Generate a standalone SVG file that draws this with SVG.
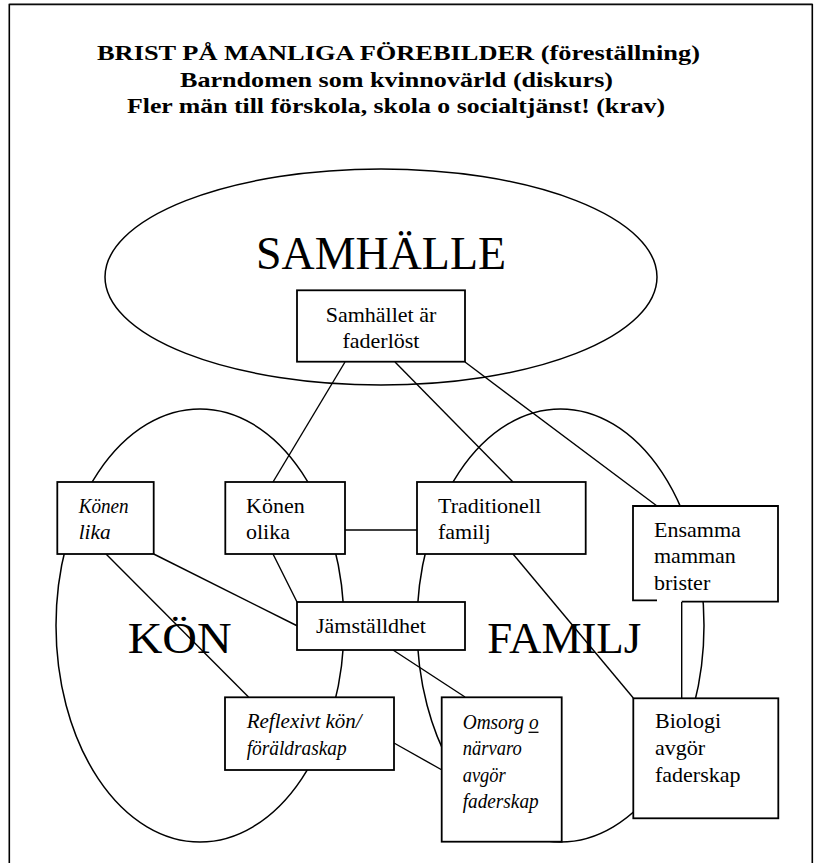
<svg xmlns="http://www.w3.org/2000/svg" width="814" height="863" viewBox="0 0 814 863">
<style>
.frame{fill:none;stroke:#000;stroke-width:1.6}
.ell{fill:none;stroke:#000;stroke-width:1.5}
.box{fill:#fff;stroke:#000;stroke-width:1.8}
.con{stroke:#000;stroke-width:1.4;fill:none}
.t{font-family:"Liberation Serif","Times New Roman",serif;font-size:22px;fill:#000}
.it{font-style:italic}
.title{font-family:"Liberation Serif","Times New Roman",serif;font-size:22px;font-weight:bold;fill:#000}
.big{font-family:"Liberation Serif","Times New Roman",serif;fill:#000}
</style>
<rect x="0" y="0" width="814" height="863" fill="#fff"/>
<g id="frame">
<path class="frame" d="M9.3,863 V4.5 H812.3 V863"/>
<line x1="9.3" y1="3.6" x2="812.3" y2="3.6" stroke="#777" stroke-width="1"/>
</g>
<g id="title">
<text class="title" x="97" y="60" textLength="603" lengthAdjust="spacingAndGlyphs">BRIST PÅ MANLIGA FÖREBILDER (föreställning)</text>
<text class="title" x="180" y="86.7" textLength="433" lengthAdjust="spacingAndGlyphs">Barndomen som kvinnovärld (diskurs)</text>
<text class="title" x="127" y="113.3" textLength="538" lengthAdjust="spacingAndGlyphs">Fler män till förskola, skola o socialtjänst! (krav)</text>
</g>
<g id="samhalle">
<ellipse class="ell" cx="381" cy="277" rx="276" ry="108"/>
<text class="big" x="256" y="269.3" font-size="47" textLength="250" lengthAdjust="spacingAndGlyphs">SAMHÄLLE</text>
</g>
<g id="kon">
<ellipse class="ell" cx="200" cy="625.5" rx="144" ry="216.5"/>
<text class="big" x="127.7" y="653" font-size="44" textLength="104" lengthAdjust="spacingAndGlyphs">KÖN</text>
</g>
<g id="familj">
<ellipse class="ell" cx="560.5" cy="625.5" rx="143.5" ry="216.5"/>
<text class="big" x="487.3" y="653" font-size="44" textLength="154" lengthAdjust="spacingAndGlyphs">FAMILJ</text>
</g>
<g id="connectors">
<line class="con" x1="345" y1="362" x2="273" y2="482"/>
<line class="con" x1="395" y1="362" x2="513" y2="482"/>
<line class="con" x1="465" y1="362" x2="657" y2="506"/>
<line class="con" x1="345" y1="530" x2="417" y2="530"/>
<line class="con" x1="153.7" y1="554" x2="297.5" y2="626"/>
<line class="con" x1="106" y1="554" x2="248.5" y2="697"/>
<line class="con" x1="273" y1="554" x2="297" y2="602"/>
<line class="con" x1="393" y1="650" x2="465" y2="697"/>
<line class="con" x1="394" y1="743" x2="442" y2="770"/>
<line class="con" x1="513" y1="554" x2="633.3" y2="698"/>
<line class="con" x1="681.7" y1="602" x2="681.7" y2="698"/>
</g>
<g id="n-samhallet">
<rect class="box" x="297" y="290.3" width="168" height="71.4"/>
<text class="t" x="381" y="321.7" text-anchor="middle">Samhället är</text>
<text class="t" x="381" y="348" text-anchor="middle">faderlöst</text>
</g>
<g id="n-konen-lika">
<rect class="box" x="57.3" y="482" width="96.4" height="72"/>
<text class="t it" x="78.7" y="513" textLength="50" lengthAdjust="spacingAndGlyphs">Könen</text>
<text class="t it" x="78.7" y="539" textLength="32" lengthAdjust="spacingAndGlyphs">lika</text>
</g>
<g id="n-konen-olika">
<rect class="box" x="225.3" y="482" width="119.7" height="72"/>
<text class="t" x="246" y="513">Könen</text>
<text class="t" x="246" y="539">olika</text>
</g>
<g id="n-traditionell">
<rect class="box" x="417" y="482" width="168.7" height="72"/>
<text class="t" x="438" y="512.7">Traditionell</text>
<text class="t" x="438" y="539">familj</text>
</g>
<g id="n-ensamma">
<rect x="633" y="506" width="145" height="95.5" fill="#fff"/>
<path d="M657,600.3 H633 V506 H778 V601.7 H681.7" fill="none" stroke="#000" stroke-width="1.8"/>
<text class="t" x="654" y="536.7">Ensamma</text>
<text class="t" x="654" y="563">mamman</text>
<text class="t" x="654" y="590">brister</text>
</g>
<g id="n-jamstalldhet">
<rect class="box" x="297" y="602" width="168" height="48"/>
<text class="t" x="316" y="633">Jämställdhet</text>
</g>
<g id="n-reflexivt">
<rect class="box" x="225" y="697.3" width="169" height="72.7"/>
<text class="t it" x="246.7" y="728.3" textLength="115" lengthAdjust="spacingAndGlyphs">Reflexivt kön/</text>
<text class="t it" x="246.7" y="755" textLength="100" lengthAdjust="spacingAndGlyphs">föräldraskap</text>
</g>
<g id="n-omsorg">
<rect class="box" x="441.7" y="697.3" width="120" height="144.4"/>
<text class="t it" x="462.7" y="729.3" textLength="76" lengthAdjust="spacingAndGlyphs">Omsorg o</text>
<line x1="528.5" y1="732.3" x2="538.5" y2="732.3" stroke="#000" stroke-width="1.3"/>
<text class="t it" x="462.7" y="755" textLength="59" lengthAdjust="spacingAndGlyphs">närvaro</text>
<text class="t it" x="462.7" y="781.7" textLength="43" lengthAdjust="spacingAndGlyphs">avgör</text>
<text class="t it" x="462.7" y="808.3" textLength="76" lengthAdjust="spacingAndGlyphs">faderskap</text>
</g>
<g id="n-biologi">
<rect class="box" x="633.3" y="698.3" width="145" height="120"/>
<text class="t" x="655" y="728.3">Biologi</text>
<text class="t" x="655" y="755">avgör</text>
<text class="t" x="655" y="781.7">faderskap</text>
</g>
</svg>
